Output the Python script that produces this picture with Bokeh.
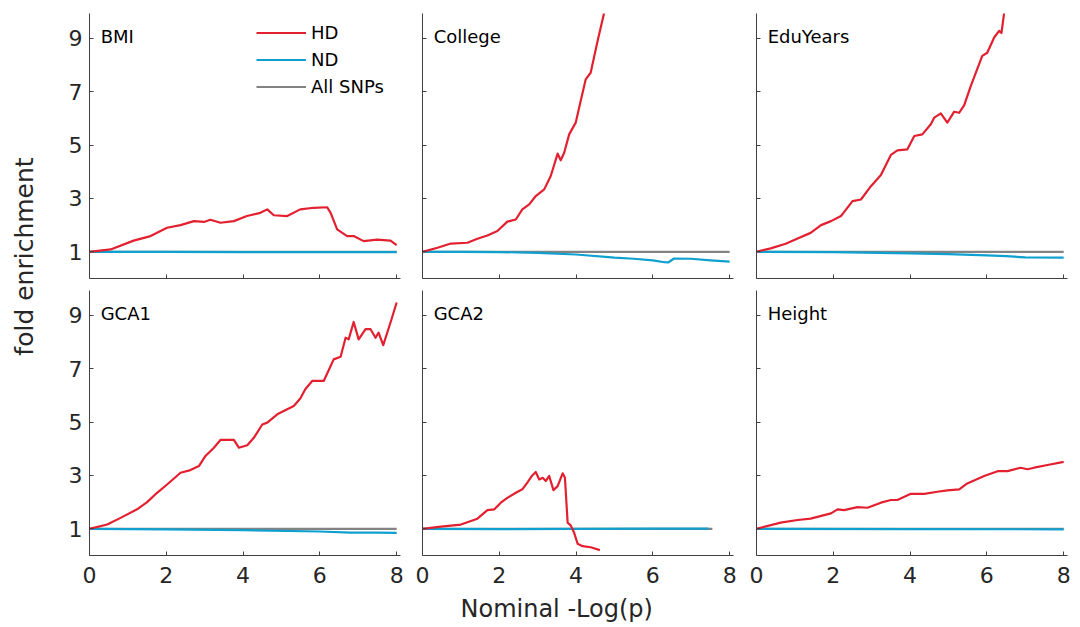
from bokeh.plotting import figure
from bokeh.layouts import row, column
from bokeh.models import Range1d, FixedTicker, Label, Legend, LegendItem
from bokeh.core.properties import value
from bokeh.embed import file_html
from bokeh.resources import INLINE
import math

# ---------------- data ----------------
PANELS = ["BMI", "College", "EduYears", "GCA1", "GCA2", "Height"]

BMI_HD_X = [0, 0.55, 1.15, 1.59, 2.02, 2.37, 2.72, 2.98, 3.15, 3.41, 3.76, 4.1, 4.45, 4.63, 4.8, 5.15, 5.49, 5.84, 6.19, 6.28, 6.45, 6.71, 6.88, 7.14, 7.49, 7.84, 8.0]
BMI_HD_Y = [1.0, 1.09, 1.42, 1.59, 1.9, 2.0, 2.15, 2.12, 2.2, 2.09, 2.15, 2.34, 2.46, 2.59, 2.37, 2.34, 2.59, 2.65, 2.67, 2.46, 1.84, 1.59, 1.59, 1.4, 1.46, 1.42, 1.25]
BMI_ND_X = [0, 2, 4, 6, 8]
BMI_ND_Y = [1.0, 1.0, 0.99, 0.99, 0.99]

COLLEGE_HD_X = [0, 0.39, 0.74, 1.17, 1.43, 1.69, 1.95, 2.21, 2.43, 2.6, 2.78, 2.95, 3.17, 3.34, 3.52, 3.6, 3.69, 3.82, 3.99, 4.12, 4.25, 4.38, 4.56, 4.73]
COLLEGE_HD_Y = [1.0, 1.15, 1.31, 1.34, 1.49, 1.61, 1.78, 2.13, 2.21, 2.59, 2.78, 3.09, 3.34, 3.84, 4.68, 4.43, 4.71, 5.4, 5.84, 6.65, 7.46, 7.71, 8.9, 9.95]
COLLEGE_ND_X = [0, 1, 2, 3, 4, 5, 5.5, 6, 6.3, 6.4, 6.55, 7, 7.5, 8]
COLLEGE_ND_Y = [1.0, 1.0, 0.99, 0.96, 0.9, 0.78, 0.74, 0.68, 0.61, 0.6, 0.75, 0.74, 0.68, 0.63]

EDU_HD_X = [0, 0.37, 0.76, 1.07, 1.41, 1.68, 1.94, 2.2, 2.5, 2.72, 2.98, 3.24, 3.5, 3.67, 3.93, 4.11, 4.32, 4.54, 4.63, 4.8, 4.97, 5.15, 5.28, 5.41, 5.58, 5.88, 6.01, 6.19, 6.32, 6.38, 6.45]
EDU_HD_Y = [1.0, 1.13, 1.3, 1.5, 1.71, 2.0, 2.15, 2.34, 2.9, 2.96, 3.46, 3.88, 4.63, 4.8, 4.84, 5.34, 5.4, 5.78, 6.03, 6.19, 5.84, 6.25, 6.21, 6.5, 7.21, 8.34, 8.46, 9.03, 9.28, 9.2, 9.95]
EDU_ND_X = [0, 2, 4, 5, 6, 6.5, 7, 8]
EDU_ND_Y = [1.0, 0.99, 0.94, 0.91, 0.87, 0.84, 0.79, 0.78]

GCA1_HD_X = [0, 0.46, 0.81, 1.24, 1.5, 1.76, 2.02, 2.37, 2.63, 2.85, 3.02, 3.24, 3.41, 3.76, 3.89, 4.11, 4.28, 4.5, 4.63, 4.89, 5.15, 5.32, 5.49, 5.62, 5.8, 6.1, 6.36, 6.54, 6.67, 6.75, 6.88, 7.01, 7.19, 7.32, 7.45, 7.53, 7.65, 7.84, 8.0]
GCA1_HD_Y = [1.0, 1.16, 1.41, 1.73, 2.0, 2.35, 2.66, 3.1, 3.2, 3.35, 3.73, 4.04, 4.33, 4.33, 4.04, 4.13, 4.41, 4.91, 4.98, 5.29, 5.48, 5.6, 5.88, 6.23, 6.54, 6.54, 7.35, 7.45, 8.16, 8.1, 8.75, 8.1, 8.48, 8.48, 8.16, 8.35, 7.88, 8.73, 9.48]
GCA1_ND_X = [0, 2, 4, 6, 6.8, 7.5, 8]
GCA1_ND_Y = [1.0, 0.98, 0.95, 0.9, 0.86, 0.86, 0.85]

GCA2_HD_X = [0, 0.48, 1.0, 1.43, 1.69, 1.87, 2.04, 2.21, 2.43, 2.6, 2.73, 2.86, 2.95, 3.04, 3.13, 3.21, 3.3, 3.41, 3.52, 3.65, 3.71, 3.78, 3.86, 3.95, 4.04, 4.17, 4.38, 4.62]
GCA2_HD_Y = [1.0, 1.08, 1.16, 1.38, 1.7, 1.73, 1.98, 2.16, 2.35, 2.48, 2.73, 3.0, 3.13, 2.85, 2.91, 2.79, 2.98, 2.45, 2.6, 3.08, 2.91, 1.23, 1.13, 0.85, 0.44, 0.35, 0.31, 0.2]
GCA2_ND_X = [0, 2, 4, 6, 7.45]
GCA2_ND_Y = [1.0, 0.99, 1.0, 1.01, 1.01]

HEIGHT_HD_X = [0, 0.63, 1.07, 1.41, 1.94, 2.11, 2.28, 2.63, 2.89, 3.24, 3.5, 3.67, 4.02, 4.37, 4.71, 4.97, 5.28, 5.49, 5.93, 6.28, 6.54, 6.88, 7.06, 7.23, 7.58, 8.0]
HEIGHT_HD_Y = [1.0, 1.23, 1.33, 1.38, 1.58, 1.73, 1.7, 1.81, 1.79, 1.98, 2.08, 2.08, 2.31, 2.31, 2.39, 2.44, 2.48, 2.7, 2.98, 3.16, 3.16, 3.29, 3.23, 3.29, 3.39, 3.51]
HEIGHT_ND_X = [0, 4, 8]
HEIGHT_ND_Y = [1.0, 0.99, 0.98]

ALL_X = [0, 8]
ALL_X_GCA2 = [0, 7.55]
ALL_Y = [1, 1]

X_TICKS = [0, 2, 4, 6, 8]
Y_TICKS = [1, 3, 5, 7, 9]
SERIES = ["HD", "ND", "All SNPs"]

HD = dict(zip(PANELS, [(BMI_HD_X, BMI_HD_Y), (COLLEGE_HD_X, COLLEGE_HD_Y), (EDU_HD_X, EDU_HD_Y),
                        (GCA1_HD_X, GCA1_HD_Y), (GCA2_HD_X, GCA2_HD_Y), (HEIGHT_HD_X, HEIGHT_HD_Y)]))
ND = dict(zip(PANELS, [(BMI_ND_X, BMI_ND_Y), (COLLEGE_ND_X, COLLEGE_ND_Y), (EDU_ND_X, EDU_ND_Y),
                        (GCA1_ND_X, GCA1_ND_Y), (GCA2_ND_X, GCA2_ND_Y), (HEIGHT_ND_X, HEIGHT_ND_Y)]))
ALLX = {k: (ALL_X_GCA2 if k == "GCA2" else ALL_X) for k in PANELS}

# ---------------- style ----------------
RED = "#e3202f"
BLUE = "#0fa0cf"
GRAY = "#838383"
AXC = "#404040"
TXT = "#262626"
FONT = "DejaVu Sans"
FW, FH = 311, 265
LW = 2.2


def hide_labels(ax):
    ax.major_label_text_font_size = "1px"
    ax.major_label_text_color = None
    ax.major_label_standoff = 0


def panel(name, col, rowi):
    left_b = [41, 17, 18][col]
    top_b = [13, 0][rowi]
    bot_b = [12, 38][rowi]
    p = figure(frame_width=FW, frame_height=FH, output_backend="svg", toolbar_location=None,
               x_range=Range1d(0, 8.1), y_range=Range1d(0, 9.93),
               min_border_left=left_b, min_border_right=5, min_border_top=top_b, min_border_bottom=bot_b)
    p.outline_line_color = None
    p.xgrid.visible = False
    p.ygrid.visible = False
    p.background_fill_color = "white"
    for ax, ticks in ((p.xaxis[0], X_TICKS), (p.yaxis[0], Y_TICKS)):
        ax.ticker = FixedTicker(ticks=ticks)
        ax.axis_line_color = AXC
        ax.axis_line_width = 1
        ax.major_tick_line_color = AXC
        ax.major_tick_in = 4
        ax.major_tick_out = 0
        ax.minor_tick_line_color = None
        ax.major_label_text_font = FONT
        ax.major_label_text_color = TXT
        ax.major_label_text_font_size = "22px"
    p.yaxis.major_label_standoff = 7
    p.xaxis.major_label_standoff = 11
    if rowi == 0:
        hide_labels(p.xaxis[0])
    if col != 0:
        hide_labels(p.yaxis[0])

    g = p.line(ALLX[name], ALL_Y, line_color=GRAY, line_width=LW)
    n = p.line(ND[name][0], ND[name][1], line_color=BLUE, line_width=LW, line_join="round")
    h = p.line(HD[name][0], HD[name][1], line_color=RED, line_width=LW, line_join="round")

    p.add_layout(Label(x=0.29, y=9.06, text=name, text_font=FONT, text_font_size="18px",
                       text_color="black", text_baseline="middle", text_align="left"))
    if name == "BMI":
        leg = Legend(items=[LegendItem(label=SERIES[0], renderers=[h]),
                            LegendItem(label=SERIES[1], renderers=[n]),
                            LegendItem(label=SERIES[2], renderers=[g])],
                     location=(167, 178), orientation="vertical",
                     glyph_width=50, glyph_height=27, label_height=27, spacing=0,
                     padding=0, margin=0, label_standoff=5,
                     label_text_font=FONT, label_text_font_size="18px", label_text_color="black",
                     background_fill_alpha=0, border_line_alpha=0)
        p.add_layout(leg)
    return p


figs = [panel(nm, i % 3, i // 3) for i, nm in enumerate(PANELS)]

# left label strip
ls = figure(width=48, height=627, output_backend="svg", toolbar_location=None,
            x_range=Range1d(0, 48), y_range=Range1d(0, 627), min_border=0)
ls.axis.visible = False
ls.grid.visible = False
ls.outline_line_color = None
ls.text(x=[24], y=[371], text=["fold enrichment"], angle=math.pi / 2, text_font=value(FONT),
        text_font_size="25px", text_color=TXT, text_align="center", text_baseline="middle")

# bottom label strip
bs = figure(width=1024, height=34, output_backend="svg", toolbar_location=None,
            x_range=Range1d(0, 1024), y_range=Range1d(0, 34), min_border=0)
bs.axis.visible = False
bs.grid.visible = False
bs.outline_line_color = None
bs.text(x=[512], y=[19], text=["Nominal  -Log(p)"], text_font=value(FONT),
        text_font_size="24px", text_color=TXT, text_align="center", text_baseline="middle")

layout = row(ls, column(row(*figs[:3]), row(*figs[3:]), bs))

open("out.html", "w").write(file_html(layout, INLINE))
